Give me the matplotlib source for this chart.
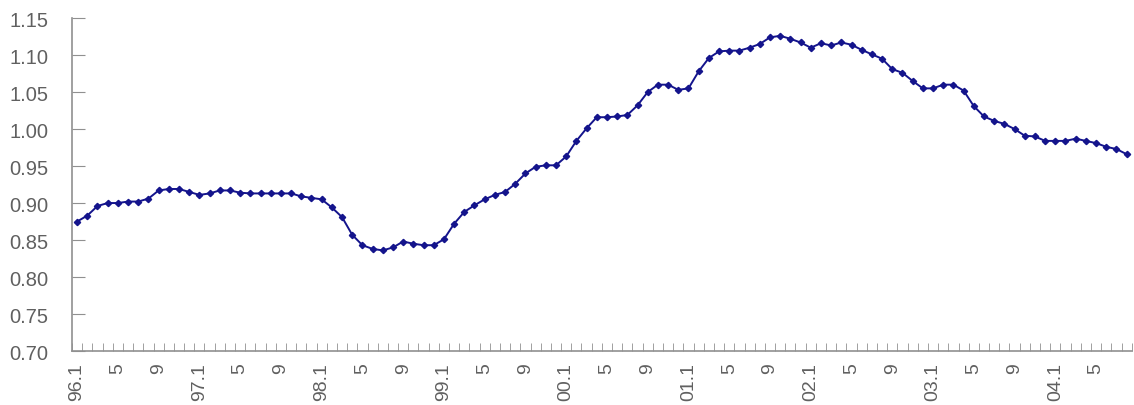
import matplotlib
matplotlib.use("Agg")
import matplotlib.pyplot as plt
import numpy as np

# monthly values, 96.1 .. 04.8
years = ['96', '97', '98', '99', '00', '01', '02', '03', '04']
values = [
    0.875, 0.883, 0.896, 0.900, 0.900, 0.902, 0.902, 0.906, 0.917, 0.919, 0.919, 0.915,
    0.911, 0.913, 0.917, 0.917, 0.914, 0.913, 0.913, 0.913, 0.913, 0.913, 0.909, 0.907,
    0.905, 0.894, 0.881, 0.857, 0.843, 0.838, 0.836, 0.840, 0.848, 0.845, 0.843, 0.843,
    0.851, 0.872, 0.888, 0.897, 0.905, 0.911, 0.915, 0.926, 0.940, 0.949, 0.951, 0.951,
    0.963, 0.984, 1.001, 1.016, 1.016, 1.017, 1.019, 1.032, 1.050, 1.060, 1.060, 1.053,
    1.055, 1.078, 1.096, 1.105, 1.106, 1.106, 1.110, 1.115, 1.124, 1.126, 1.122, 1.117,
    1.110, 1.116, 1.113, 1.117, 1.114, 1.107, 1.101, 1.095, 1.081, 1.076, 1.065, 1.055,
    1.055, 1.060, 1.060, 1.052, 1.031, 1.017, 1.011, 1.007, 1.000, 0.991, 0.990, 0.984,
    0.984, 0.984, 0.987, 0.984, 0.981, 0.976, 0.973, 0.966,
]

# category labels: "yy.1" for january, otherwise the month number
categories = []
for yy in years:
    for m in range(1, 13):
        categories.append(yy + '.1' if m == 1 else str(m))
categories = categories[:len(values)]

yticks = np.arange(0.70, 1.151, 0.05)

plt.rcParams['font.family'] = ['Liberation Sans', 'DejaVu Sans']

fig = plt.figure(figsize=(11.34, 4.06), dpi=100)
ax = fig.add_axes([0.0635, 0.133, 0.9345, 0.82])

x = np.arange(len(values))
ax.plot(x, values, color='#14148c', linewidth=1.4, marker='D', markersize=3.2,
        markerfacecolor='#14148c', markeredgecolor='#14148c')

ax.set_xlim(-0.5, len(values) - 0.5)
ax.set_ylim(0.70, 1.15)

ax.set_yticks(yticks)
ax.set_yticklabels(['%.2f' % v for v in yticks])

ax.set_xticks(x[::4])
ax.set_xticklabels(categories[::4], rotation=90)
ax.set_xticks(np.arange(-0.5, len(values), 1), minor=True)

ax.tick_params(axis='x', which='major', length=0, pad=8, labelsize=14, labelcolor='#606060')
ax.tick_params(axis='x', which='minor', direction='in', length=6, color='#909090')
ax.tick_params(axis='y', direction='in', length=9, color='#909090', pad=17,
               labelsize=14.5, labelcolor='#606060')

for s in ['top', 'right']:
    ax.spines[s].set_visible(False)
for s in ['left', 'bottom']:
    ax.spines[s].set_color('#909090')
    ax.spines[s].set_linewidth(1.2)

plt.savefig('out.png', dpi=100)
